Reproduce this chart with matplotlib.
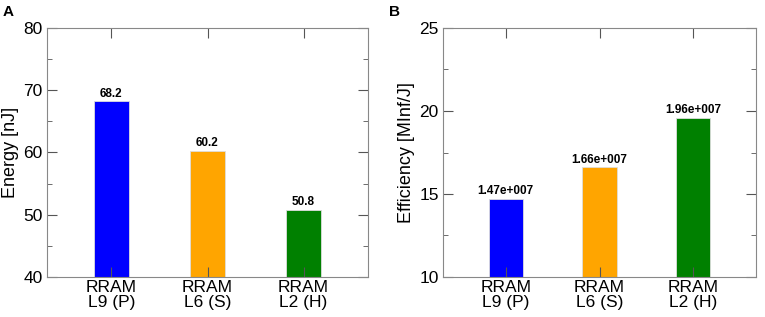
import matplotlib
matplotlib.use("Agg")
import matplotlib.pyplot as plt
from matplotlib.ticker import MultipleLocator

plt.rcParams['font.family'] = ['Liberation Sans', 'DejaVu Sans']

categories = ["RRAM\nL9 (P)", "RRAM\nL6 (S)", "RRAM\nL2 (H)"]
colors = ["#0000ff", "#ffa500", "#008000"]

energy = [68.2, 60.2, 50.8]
energy_labels = ["68.2", "60.2", "50.8"]

efficiency = [14.7, 16.6, 19.6]
efficiency_labels = ["1.47e+007", "1.66e+007", "1.96e+007"]


def DrawPanel(ax, values, labels, ylim, major, minor, ylabel, letter, lx):
    x = range(len(values))
    ax.bar(x, [v - ylim[0] for v in values], bottom=ylim[0], width=0.365,
           color=colors, edgecolor="#dddddd", linewidth=0.6, zorder=1)
    for xi, v, t in zip(x, values, labels):
        ax.text(xi, v + 0.3 * (ylim[1] - ylim[0]) / 40, t, ha="center", va="bottom",
                fontsize=8.5, fontweight="bold")
    ax.set_xlim(-0.67, 2.67)
    ax.set_ylim(*ylim)
    ax.set_xticks(list(x))
    ax.set_xticklabels(categories, fontsize=12.5, linespacing=1.05)
    ax.yaxis.set_major_locator(MultipleLocator(major))
    ax.yaxis.set_minor_locator(MultipleLocator(minor))
    ax.tick_params(axis="both", which="major", direction="in", length=7,
                   color="#555555", top=True, right=True, labelsize=12.5, pad=3)
    ax.tick_params(axis="x", which="major", pad=2)
    ax.tick_params(axis="y", which="minor", direction="in", length=3.5,
                   color="#555555", right=True)
    ax.tick_params(axis="x", which="minor", bottom=False, top=False)
    for s in ax.spines.values():
        s.set_color("#888888")
        s.set_linewidth(0.8)
    ax.set_ylabel(ylabel, fontsize=13, labelpad=3)
    ax.figure.text(lx, 0.985, letter, fontsize=11, fontweight="bold", va="top")


fig = plt.figure(figsize=(7.65, 3.17), dpi=100)
ax1 = fig.add_axes([47 / 765, 1 - 277 / 317, 321 / 765, 249 / 317])
ax2 = fig.add_axes([443 / 765, 1 - 277 / 317, 313 / 765, 249 / 317])

DrawPanel(ax1, energy, energy_labels, (40, 80), 10, 5, "Energy [nJ]", "A", 3 / 765)
DrawPanel(ax2, efficiency, efficiency_labels, (10, 25), 5, 2.5, "Efficiency [MInf/J]", "B", 389 / 765)

fig.savefig("out.png", dpi=100)
